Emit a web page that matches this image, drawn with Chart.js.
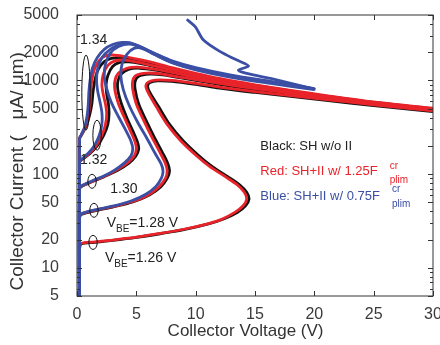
<!DOCTYPE html>
<html>
<head>
<meta charset="utf-8">
<script src="https://cdn.jsdelivr.net/npm/chart.js@4/dist/chart.umd.min.js"></script>
<style>
  html, body { margin: 0; padding: 0; background: #fff; }
</style>
</head>
<body>
<canvas id="ivChart" width="440" height="345"></canvas>
<script>
// collector voltage (V), collector current (uA/um)
const xTicks = [0, 5, 10, 15, 20, 25, 30];
const yTicks = [5, 10, 20, 50, 100, 200, 500, 1000, 2000, 5000];
const yMinor = [6, 7, 8, 9, 30, 40, 60, 70, 80, 90, 300, 400, 600, 700, 800, 900, 3000, 4000];

// Black: SH w/o II
const black126 = [[0.2,5],[0.22,16],[0.35,18],[1.5,18.7],[3,19.6],[5,21.1],[7,23.1],[9,25.5],[11,29.2],[12.3,33],[13.5,39],[14.2,46],[14.5,54],[14.3,64],[13.7,77],[12.7,94],[11.4,120],[10.2,160],[8.9,230],[7.8,340],[6.9,520],[6.15,740],[5.95,870],[6.15,950],[6.8,990],[8,980],[10,910],[12,830],[15,745],[18,675],[21,612],[25,540],[30,465]];
const black128 = [[0.2,5],[0.22,34],[0.35,37],[1.5,40.5],[3,44.5],[4.7,50.5],[6.1,60],[7.05,73],[7.6,90],[7.8,108],[7.65,130],[7.2,170],[6.5,250],[5.8,380],[5.2,560],[4.9,800],[4.9,980],[5.2,1110],[6.1,1170],[7.2,1150],[9,1050],[12,910],[15,800],[18,715],[21,640],[25,555],[30,475]];
const black130 = [[0.2,5],[0.22,70],[0.35,73.5],[1.3,83.5],[2.3,94],[3.4,109],[4.35,130],[4.95,155],[5.2,185],[5.1,220],[4.7,290],[4.2,400],[3.75,560],[3.45,780],[3.45,990],[3.75,1180],[4.4,1320],[5.3,1350],[6.6,1290],[8,1190],[10,1060],[12,940],[15,825],[18,730],[21,648],[25,560],[30,480]];
const black132 = [[0.2,5],[0.22,135],[0.35,141],[1.05,164],[1.7,200],[2.25,260],[2.6,340],[2.7,440],[2.65,560],[2.5,720],[2.45,900],[2.6,1130],[3.0,1410],[3.6,1560],[4.4,1580],[5.5,1500],[6.8,1380],[8,1270],[10,1110],[12,985],[15,855],[18,750],[21,665],[25,570],[30,490]];
const black134 = [[0.2,5],[0.22,240],[0.35,258],[0.75,320],[1.05,420],[1.25,560],[1.35,750],[1.5,1000],[1.8,1320],[2.3,1590],[2.9,1720],[3.6,1740],[4.5,1680],[5.6,1580],[6.8,1460],[8,1340],[10,1170],[12,1030],[15,885],[18,775],[21,680],[25,582],[30,497]];

// Red: SH+II w/ 1.25 Fplim
const red126 = [[0.2,5],[0.22,16],[0.35,18.2],[1.5,18.9],[3,19.8],[5,21.3],[7,23.3],[9,25.8],[11,29.5],[12.2,33],[13.3,39],[14,46],[14.3,54],[14.1,64],[13.5,77],[12.5,94],[11.2,120],[10,160],[8.7,230],[7.6,340],[6.7,520],[6.0,740],[5.8,880],[6.0,960],[6.6,1010],[8,1000],[10,930],[12,850],[15,760],[18,690],[21,625],[25,550],[30,475]];
const red128 = [[0.2,5],[0.22,34],[0.35,37.5],[1.5,41],[3,45],[4.7,51],[6,60],[6.9,73],[7.45,90],[7.6,108],[7.45,130],[7.0,170],[6.3,250],[5.6,380],[5.0,560],[4.7,800],[4.7,1000],[5.0,1140],[5.9,1200],[7,1180],[9,1070],[12,930],[15,820],[18,730],[21,650],[25,565],[30,485]];
const red130 = [[0.2,5],[0.22,70],[0.35,74],[1.3,84],[2.3,95],[3.3,110],[4.2,130],[4.8,155],[5.0,185],[4.9,220],[4.5,290],[4.0,400],[3.5,560],[3.2,780],[3.2,1000],[3.5,1200],[4.2,1350],[5.1,1390],[6.5,1320],[8,1220],[10,1080],[12,960],[15,840],[18,745],[21,660],[25,570],[30,490]];
const red132 = [[0.2,5],[0.22,135],[0.35,142],[1.0,165],[1.6,200],[2.1,260],[2.4,340],[2.5,440],[2.4,560],[2.2,720],[2.1,900],[2.2,1150],[2.6,1450],[3.2,1620],[4.05,1650],[5.2,1560],[6.5,1430],[8,1300],[10,1140],[12,1010],[15,870],[18,765],[21,675],[25,580],[30,500]];
const red134 = [[0.2,5],[0.22,240],[0.35,260],[0.7,320],[0.95,420],[1.1,560],[1.15,750],[1.25,1000],[1.5,1350],[1.9,1650],[2.4,1830],[3.0,1870],[4.0,1800],[5.2,1680],[6.5,1540],[8,1370],[10,1190],[12,1050],[15,900],[18,785],[21,690],[25,590],[30,505]];

// Blue: SH+II w/ 0.75 Fplim
const blue128 = [[0.2,5],[0.22,34],[0.35,37.5],[1.5,41.5],[3,45.5],[4.6,52],[5.8,61],[6.65,74],[7.1,90],[7.25,107],[7.1,128],[6.6,165],[5.9,240],[5.1,360],[4.4,540],[3.9,800],[3.7,1100],[3.8,1500],[4.2,1900],[4.8,2200],[5.5,2200],[6.5,1900],[8,1550],[10,1300],[13,1080],[16.3,930],[20,800]];
const blue130 = [[0.2,5],[0.22,70],[0.35,74.5],[1.3,85],[2.3,96],[3.2,111],[4.0,132],[4.55,157],[4.7,187],[4.55,225],[4.1,295],[3.5,410],[2.9,580],[2.5,820],[2.3,1100],[2.4,1500],[2.8,1950],[3.5,2300],[4.4,2450],[5.5,2250],[6.5,1900],[8,1560],[10,1320],[13,1100],[16.3,950],[20,810]];
const blue132 = [[0.2,5],[0.22,135],[0.35,143],[0.95,167],[1.5,205],[1.9,265],[2.1,345],[2.1,450],[1.95,580],[1.75,760],[1.65,1000],[1.75,1350],[2.1,1750],[2.8,2150],[3.6,2420],[4.3,2530],[5.3,2300],[6.5,1950],[8,1600],[10,1350],[13,1120],[16.3,965],[20,815]];
const blue134 = [[0.2,5],[0.22,240],[0.35,262],[0.65,320],[0.85,420],[0.95,560],[1.0,750],[1.1,1000],[1.3,1350],[1.7,1750],[2.3,2150],[3.0,2420],[3.8,2550],[4.5,2500],[5.5,2200],[6.5,1950],[8,1620],[10,1370],[13,1140],[16.3,980],[20,820]];
const blueUpper = [[9.25,4500],[9.96,3750],[10.66,2700],[12.07,2030],[13.48,1650],[14.46,1425],[13.6,1290],[14.3,1190],[16.3,1052],[20.1,805]];

const blackCurves = [black126, black128, black130, black132, black134];
const blueCurves = [blue128, blue130, blue132, blue134, blueUpper];
const redCurves = [red126, red128, red130, red132, red134];

const RED = '#e8242a';
const BLUE = '#3b4fa5';
const BLACK = '#111111';
const FONT = "'Liberation Sans', Arial, Helvetica, sans-serif";

function curve(points, color) {
  return {
    data: points.map(p => ({ x: p[0], y: p[1] })),
    borderColor: color,
    borderWidth: 2.8,
    pointRadius: 0,
    showLine: true,
    tension: 0.3,
    fill: false
  };
}

// first dataset is drawn last (on top)
const datasets = [
  ...blueCurves.map(c => curve(c, BLUE)),
  ...redCurves.map(c => curve(c, RED)),
  ...blackCurves.map(c => curve(c, BLACK))
];

// ellipses around groups: centre voltage, current range
const ellipses = [
  { x: 0.76, lo: 295, hi: 1870 },
  { x: 1.69, lo: 180, hi: 377 },
  { x: 1.27, lo: 70.6, hi: 99.6 },
  { x: 1.43, lo: 34.6, hi: 48.8 },
  { x: 1.35, lo: 15.7, hi: 22.2 }
];

const framePlugin = {
  id: 'frame',
  afterDatasetsDraw(chart) {
    const { ctx, chartArea: a, scales: { x, y } } = chart;
    ctx.save();

    // group ellipses
    ctx.strokeStyle = '#111';
    ctx.lineWidth = 1;
    ellipses.forEach(e => {
      const cx = x.getPixelForValue(e.x);
      const yt = y.getPixelForValue(e.hi), yb = y.getPixelForValue(e.lo);
      ctx.beginPath();
      ctx.ellipse(cx, (yt + yb) / 2, 4.2, (yb - yt) / 2, 0, 0, Math.PI * 2);
      ctx.stroke();
    });

    // VBE labels
    ctx.fillStyle = '#222';
    ctx.textBaseline = 'middle';
    ctx.font = '14px ' + FONT;
    ctx.fillText('1.34', x.getPixelForValue(0.25), y.getPixelForValue(2700));
    ctx.fillText('1.32', x.getPixelForValue(0.25), y.getPixelForValue(141));
    ctx.fillText('1.30', x.getPixelForValue(2.8), y.getPixelForValue(70));
    const vbe = (val, vx, vy) => {
      let px = x.getPixelForValue(vx);
      const py = y.getPixelForValue(vy);
      ctx.font = '14px ' + FONT;
      ctx.fillText('V', px, py);
      px += ctx.measureText('V').width;
      ctx.font = '10px ' + FONT;
      ctx.fillText('BE', px, py + 6);
      px += ctx.measureText('BE').width;
      ctx.font = '14px ' + FONT;
      ctx.fillText('=' + val + ' V', px, py);
    };
    vbe('1.28', 2.5, 29.8);
    vbe('1.26', 2.35, 12.7);

    // legend texts
    const legend = (txt, color, vy) => {
      const px = x.getPixelForValue(15.45);
      const py = y.getPixelForValue(vy);
      ctx.fillStyle = color;
      ctx.font = '13px ' + FONT;
      ctx.fillText(txt, px, py);
      return px + ctx.measureText(txt).width;
    };
    legend('Black: SH w/o II', '#222', 199);
    let end = legend('Red: SH+II w/ 1.25F', RED, 107);
    ctx.font = '10px ' + FONT;
    ctx.fillText('cr', end + 12, y.getPixelForValue(107) - 5);
    ctx.fillText('plim', end + 12, y.getPixelForValue(107) + 9);
    end = legend('Blue: SH+II w/ 0.75F', BLUE, 58);
    ctx.font = '10px ' + FONT;
    ctx.fillText('cr', end + 12, y.getPixelForValue(58) - 7);
    ctx.fillText('plim', end + 12, y.getPixelForValue(58) + 8);

    // box and inward ticks
    ctx.strokeStyle = '#333';
    ctx.lineWidth = 1;
    ctx.strokeRect(a.left, a.top, a.right - a.left, a.bottom - a.top);
    ctx.beginPath();
    xTicks.forEach(v => {
      const px = Math.round(x.getPixelForValue(v)) + 0.5;
      ctx.moveTo(px, a.bottom); ctx.lineTo(px, a.bottom - 5);
      ctx.moveTo(px, a.top); ctx.lineTo(px, a.top + 5);
    });
    yTicks.forEach(v => {
      const py = Math.round(y.getPixelForValue(v)) + 0.5;
      ctx.moveTo(a.left, py); ctx.lineTo(a.left + 5, py);
      ctx.moveTo(a.right, py); ctx.lineTo(a.right - 5, py);
    });
    yMinor.forEach(v => {
      const py = Math.round(y.getPixelForValue(v)) + 0.5;
      ctx.moveTo(a.left, py); ctx.lineTo(a.left + 3, py);
      ctx.moveTo(a.right, py); ctx.lineTo(a.right - 3, py);
    });
    ctx.stroke();
    ctx.restore();
  }
};

new Chart(document.getElementById('ivChart'), {
  type: 'scatter',
  data: { datasets },
  options: {
    responsive: false,
    animation: false,
    layout: { padding: { top: 15, right: 7, left: 0, bottom: 0 } },
    plugins: { legend: { display: false }, tooltip: { enabled: false } },
    scales: {
      x: {
        type: 'linear',
        min: 0,
        max: 30,
        grid: { display: false },
        border: { display: false },
        afterBuildTicks: s => { s.ticks = xTicks.map(v => ({ value: v })); },
        afterFit: s => { s.height = 49; s.paddingLeft = 0; s.paddingRight = 0; },
        ticks: { color: '#3a3a3a', padding: 1, font: { family: FONT, size: 16 } },
        title: {
          display: true,
          text: 'Collector Voltage (V)    ',
          color: '#333',
          padding: { bottom: 3 },
          font: { family: FONT, size: 17 }
        }
      },
      y: {
        type: 'logarithmic',
        min: 5,
        max: 5000,
        grid: { display: false },
        border: { display: false },
        afterBuildTicks: s => { s.ticks = yTicks.map(v => ({ value: v })); },
        afterFit: s => { s.width = 77; s.paddingTop = 0; s.paddingBottom = 0; },
        ticks: { color: '#3a3a3a', padding: 10, font: { family: FONT, size: 16 }, callback: v => String(v) },
        title: {
          display: true,
          text: 'Collector Current (   \u03bcA/ \u03bcm)      ',
          color: '#333',
          padding: { top: 6 },
          font: { family: FONT, size: 19 }
        }
      }
    }
  },
  plugins: [framePlugin]
});
</script>
</body>
</html>
